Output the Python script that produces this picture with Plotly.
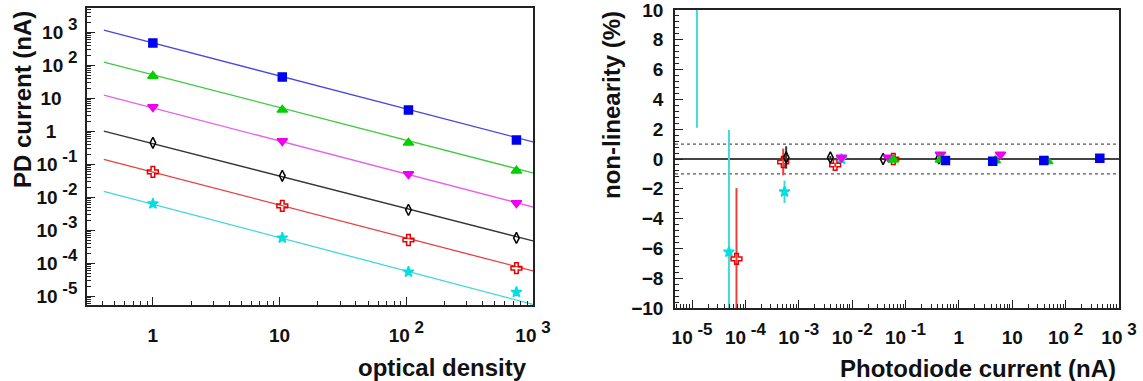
import plotly.graph_objects as go

# ---------------- data: left panel (PD current vs optical density) ----------
od = [1, 10.5, 104, 740]
blue_i = [468, 43.7, 4.37, 0.537]
green_i = [47, 4.4, 0.44, 0.063]
magenta_i = [5.4, 0.5, 0.05, 0.0066]
black_i = [0.44, 0.044, 0.0041, 0.00058]
red_i = [0.058, 0.0054, 0.0005, 0.00007]
cyan_i = [0.0063, 0.00058, 0.000054, 0.0000132]

fit_x = [0.41, 1000]
blue_fit = [1150, 0.47]
green_fit = [123, 0.054]
magenta_fit = [12.3, 0.005]
black_fit = [1.0, 0.00047]
red_fit = [0.14, 0.000058]
cyan_fit = [0.015, 0.0000056]

# ---------------- data: right panel (non-linearity vs current) -------------
blue_x = [437, 39, 4.3, 0.56]
blue_y = [0.05, -0.1, -0.15, -0.1]
blue_e = [0.05, 0.05, 0.05, 0.05]
green_x = [46, 4.8, 0.45, 0.059]
green_y = [-0.15, -0.1, -0.05, -0.05]
green_e = [0.05, 0.05, 0.05, 0.05]
magenta_x = [6.0, 0.45, 0.048, 0.0063]
magenta_y = [0.3, 0.3, 0.1, 0.1]
magenta_e = [0.05, 0.05, 0.05, 0.1]
black_x = [0.42, 0.038, 0.0039, 0.00058]
black_y = [0.05, 0.0, 0.1, 0.1]
black_e = [0.05, 0.05, 0.1, 0.75]
red_x = [0.059, 0.0048, 0.00051, 0.000068]
red_y = [0.0, -0.4, -0.2, -6.7]
red_e = [0.05, 0.15, 0.9, 4.75]
cyan_x = [0.0063, 0.00054, 0.000049, 0.0000123]
cyan_y = [0.0, -2.2, -6.24, 14.0]
cyan_e = [0.1, 0.75, 8.2, 11.9]

FONT = "Liberation Sans"


def pow10(e):
    return "10<span style='baseline-shift:55%;font-size:17px'>&nbsp;" + e + "</span>"


left_xtick_vals = [1, 10, 100, 1000]
left_xtick_text = ["1", "10", pow10("2"), pow10("3")]
left_ytick_vals = [1e-5, 1e-4, 1e-3, 1e-2, 1e-1, 1, 10, 100, 1000]
left_ytick_text = [pow10("-5"), pow10("-4"), pow10("-3"), pow10("-2"), pow10("-1"),
                   "1&nbsp;&nbsp;&nbsp;&nbsp;", "10&nbsp;&nbsp;&nbsp;", pow10("2"), pow10("3")]
right_xtick_vals = [1e-5, 1e-4, 1e-3, 1e-2, 1e-1, 1, 10, 100, 1000]
right_xtick_text = [pow10("-5"), pow10("-4"), pow10("-3"), pow10("-2"), pow10("-1"),
                    "1", "10", pow10("2"), pow10("3")]

series = [
    # name, marker color, line color, symbol, size, left y, fit y, right x, right y, right err
    ("cyan", "#00e0e0", "#40d8d8", "star", 8, cyan_i, cyan_fit, cyan_x, cyan_y, cyan_e),
    ("red", "#e80000", "#e84040", "cross-open", 9, red_i, red_fit, red_x, red_y, red_e),
    ("black", "#000000", "#333333", "diamond-tall-open", 8, black_i, black_fit, black_x, black_y, black_e),
    ("magenta", "#f000f0", "#e860e8", "triangle-down", 9, magenta_i, magenta_fit, magenta_x, magenta_y, magenta_e),
    ("green", "#00d000", "#40c840", "triangle-up", 9, green_i, green_fit, green_x, green_y, green_e),
    ("blue", "#0000f0", "#4848e0", "square", 8, blue_i, blue_fit, blue_x, blue_y, blue_e),
]

fig = go.Figure()

for name, mc, lc, sym, sz, yi, fy, rx, ry, re in series:
    fig.add_trace(go.Scatter(x=fit_x, y=fy, mode="lines", line=dict(color=lc, width=1.3),
                             xaxis="x", yaxis="y", showlegend=False, hoverinfo="skip"))
for name, mc, lc, sym, sz, yi, fy, rx, ry, re in series:
    fig.add_trace(go.Scatter(x=od, y=yi, mode="markers",
                             marker=dict(symbol=sym, size=sz, color=mc,
                                         line=dict(color=mc, width=1.5)),
                             xaxis="x", yaxis="y", showlegend=False))

# right panel reference lines
fig.add_trace(go.Scatter(x=[10**-5.32, 1000], y=[0, 0], mode="lines",
                         line=dict(color="#444444", width=2), xaxis="x2", yaxis="y2",
                         showlegend=False, hoverinfo="skip"))
for lvl in (1, -1):
    fig.add_trace(go.Scatter(x=[10**-5.32, 1000], y=[lvl, lvl], mode="lines",
                             line=dict(color="#555555", width=1.3, dash="dot"), xaxis="x2", yaxis="y2",
                             showlegend=False, hoverinfo="skip"))

for name, mc, lc, sym, sz, yi, fy, rx, ry, re in series:
    fig.add_trace(go.Scatter(x=rx, y=ry, mode="markers",
                             marker=dict(symbol=sym, size=sz, color=mc,
                                         line=dict(color=mc, width=1.5)),
                             error_y=dict(type="data", array=re, visible=True, width=0,
                                          thickness=2, color=lc),
                             xaxis="x2", yaxis="y2", showlegend=False))

tickfont = dict(family=FONT, size=19, color="#111111", weight="bold")
axis_common = dict(showline=True, mirror=True, linecolor="#222222", linewidth=1.6,
                   showgrid=False, zeroline=False, ticks="inside", tickcolor="#222222",
                   ticklen=8, tickwidth=1.2, tickfont=tickfont, automargin=False,
                   ticklabeloverflow="allow")

W, H = 1143, 381
fig.update_layout(
    width=W, height=H, margin=dict(l=0, r=0, t=0, b=0),
    paper_bgcolor="white", plot_bgcolor="white",
    xaxis=dict(type="log", range=[-0.52, 3.0], domain=[87 / W, 533 / W], anchor="y",
               tickvals=left_xtick_vals, ticktext=left_xtick_text, ticklabelstandoff=12,
               minor=dict(ticks="inside", ticklen=4, tickcolor="#222222", dtick="D1"),
               **axis_common),
    yaxis=dict(type="log", range=[-5.27, 3.73], domain=[(H - 305) / H, (H - 8) / H], anchor="x",
               tickvals=left_ytick_vals, ticktext=left_ytick_text, ticklabelstandoff=4,
               minor=dict(ticks="inside", ticklen=4, tickcolor="#222222", dtick="D1"),
               **axis_common),
    xaxis2=dict(type="log", range=[-5.32, 3.0], domain=[675 / W, 1119 / W], anchor="y2",
                tickvals=right_xtick_vals, ticktext=right_xtick_text, ticklabelstandoff=11,
                minor=dict(ticks="inside", ticklen=4, tickcolor="#222222", dtick="D1"),
                **axis_common),
    yaxis2=dict(range=[-10, 10], domain=[(H - 308) / H, (H - 10) / H], anchor="x2",
                tickvals=list(range(-10, 11, 2)), ticklabelstandoff=6,
                minor=dict(ticks="inside", ticklen=4, tickcolor="#222222", dtick=0.4),
                **axis_common),
    annotations=[
        dict(text="PD current (nA)", x=22 / W, y=(H - 100) / H, xref="paper", yref="paper",
             textangle=-90, showarrow=False, xanchor="center", yanchor="middle",
             font=dict(family=FONT, size=24, color="#111111", weight="bold")),
        dict(text="optical density", x=529 / W, y=(H - 367) / H, xref="paper", yref="paper",
             showarrow=False, xanchor="right", yanchor="middle",
             font=dict(family=FONT, size=24, color="#111111", weight="bold")),
        dict(text="non-linearity (%)", x=612 / W, y=(H - 105) / H, xref="paper", yref="paper",
             textangle=-90, showarrow=False, xanchor="center", yanchor="middle",
             font=dict(family=FONT, size=24, color="#111111", weight="bold")),
        dict(text="Photodiode current (nA)", x=1118 / W, y=(H - 368) / H, xref="paper", yref="paper",
             showarrow=False, xanchor="right", yanchor="middle",
             font=dict(family=FONT, size=24, color="#111111", weight="bold")),
    ],
)

fig.write_html("out.html")
